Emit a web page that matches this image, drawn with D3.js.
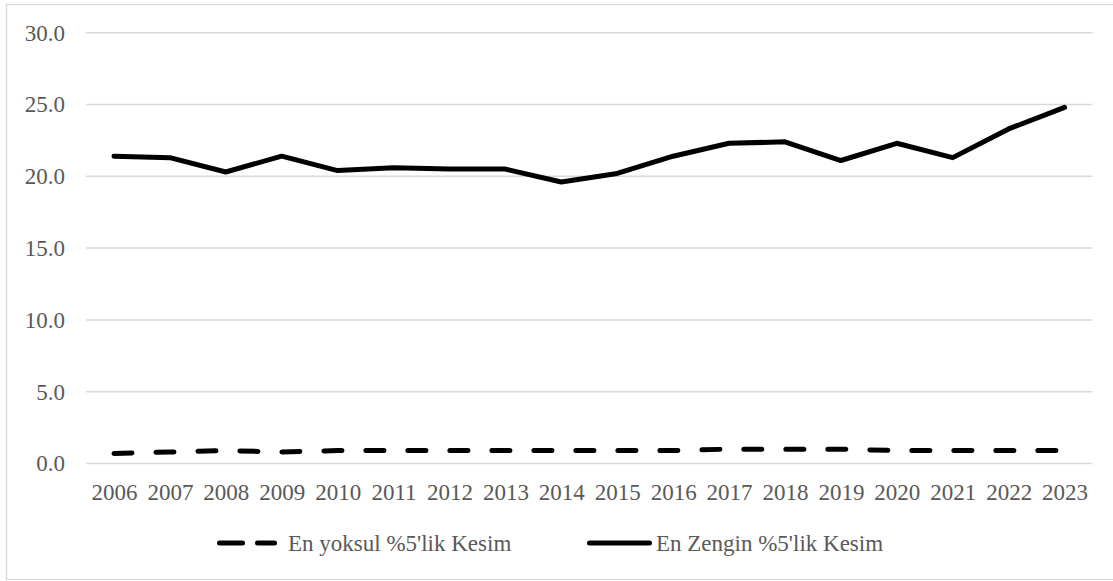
<!DOCTYPE html>
<html>
<head>
<meta charset="utf-8">
<script src="https://cdn.jsdelivr.net/npm/d3@7"></script>
<style>
  html, body { margin: 0; padding: 0; background: #ffffff; }
  svg { display: block; }
</style>
</head>
<body>
<svg id="chart" width="1113" height="581"></svg>
<script>
const years = ["2006","2007","2008","2009","2010","2011","2012","2013","2014","2015","2016","2017","2018","2019","2020","2021","2022","2023"];
const poorest = [0.7,0.8,0.9,0.8,0.9,0.9,0.9,0.9,0.9,0.9,0.9,1.0,1.0,1.0,0.9,0.9,0.9,0.9];
const richest = [21.4,21.3,20.3,21.4,20.4,20.6,20.5,20.5,19.6,20.2,21.4,22.3,22.4,21.1,22.3,21.3,23.3,24.8];
const yTicks = [0,5,10,15,20,25,30];
const seriesNames = ["En yoksul %5'lik Kesim", "En Zengin %5'lik Kesim"];

const svg = d3.select("#chart");
const plot = { left: 86, right: 1092.5, top: 32.7, bottom: 463.5 };
const gridColor = "#d9d9d9";
const textColor = "#595959";
const FONT = "\"Liberation Serif\"";
const FS = "23px";

function styleText(sel) {
  sel.style("font-family", FONT).style("font-size", FS).attr("fill", textColor);
}

// outer border (right edge lies just outside the frame, as in the reference)
svg.append("rect")
  .attr("x", 6.5).attr("y", 4.5)
  .attr("width", 1116 - 6.5).attr("height", 579.5 - 4.5)
  .attr("fill", "#fff").attr("stroke", gridColor).attr("stroke-width", 1.3);

const x = d3.scalePoint().domain(years).range([plot.left, plot.right]).padding(0.5);
const y = d3.scaleLinear().domain([0, 30]).range([plot.bottom, plot.top]);

// gridlines
svg.append("g").selectAll("line").data(yTicks).join("line")
  .attr("x1", plot.left).attr("x2", plot.right)
  .attr("y1", d => y(d)).attr("y2", d => y(d))
  .attr("stroke", gridColor).attr("stroke-width", 1.5);

// y axis labels
const yAxis = d3.axisLeft(y).tickValues(yTicks).tickFormat(d3.format(".1f")).tickSize(0).tickPadding(21);
const gy = svg.append("g").attr("transform", `translate(${plot.left},0)`).call(yAxis);
gy.select(".domain").remove();
styleText(gy.selectAll("text"));

// x axis labels
const xAxis = d3.axisBottom(x).tickSize(0).tickPadding(20);
const gx = svg.append("g").attr("transform", `translate(0,${plot.bottom})`).call(xAxis);
gx.select(".domain").remove();
styleText(gx.selectAll("text"));

const line = d3.line().x((d, i) => x(years[i])).y(d => y(d));

svg.append("path").datum(poorest)
  .attr("d", line).attr("fill", "none").attr("stroke", "#000")
  .attr("stroke-width", 5).attr("stroke-linecap", "round").attr("stroke-linejoin", "round")
  .attr("stroke-dasharray", "18,24");

svg.append("path").datum(richest)
  .attr("d", line).attr("fill", "none").attr("stroke", "#000")
  .attr("stroke-width", 5).attr("stroke-linecap", "round").attr("stroke-linejoin", "round");

// legend
const ly = 543;
const legend = svg.append("g");
legend.append("line").attr("x1", 219.5).attr("x2", 274.5).attr("y1", ly).attr("y2", ly)
  .attr("stroke", "#000").attr("stroke-width", 5).attr("stroke-linecap", "round")
  .attr("stroke-dasharray", "23,15");
styleText(legend.append("text").attr("x", 288).attr("y", ly).attr("dy", "0.35em")
  .text(seriesNames[0]));
legend.append("line").attr("x1", 589.5).attr("x2", 649.5).attr("y1", ly).attr("y2", ly)
  .attr("stroke", "#000").attr("stroke-width", 5).attr("stroke-linecap", "round");
styleText(legend.append("text").attr("x", 656).attr("y", ly).attr("dy", "0.35em")
  .text(seriesNames[1]));
</script>
</body>
</html>
